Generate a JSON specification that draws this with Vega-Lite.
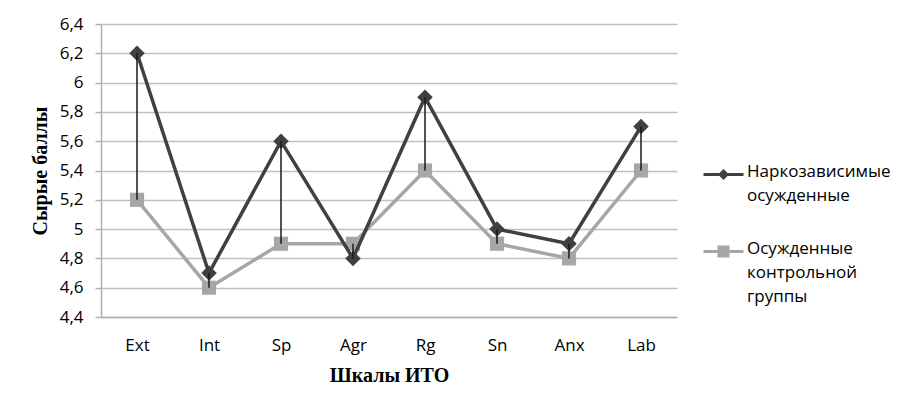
{
  "$schema": "https://vega.github.io/schema/vega-lite/v6.json",
  "width": 576,
  "height": 293,
  "autosize": {"type": "none"},
  "padding": {"left": 101, "top": 24, "right": 223, "bottom": 89},
  "background": "white",
  "config": {
    "view": {"stroke": null},
    "font": "Open Sans",
    "axis": {"labelFont": "Open Sans", "labelFontSize": 17, "labelColor": "#000000", "titleFont": "Liberation Serif", "titleFontWeight": "bold", "titleFontSize": 20, "titleColor": "#000000", "domainColor": "#b0b0b0", "domainWidth": 1.5, "tickColor": "#b0b0b0", "tickWidth": 1.5, "gridColor": "#c0c0c0", "gridWidth": 1.5}
  },
  "data": {
    "values": [
      {"cat": "Ext", "series": "Наркозависимые осужденные", "value": 6.2},
      {"cat": "Int", "series": "Наркозависимые осужденные", "value": 4.7},
      {"cat": "Sp", "series": "Наркозависимые осужденные", "value": 5.6},
      {"cat": "Agr", "series": "Наркозависимые осужденные", "value": 4.8},
      {"cat": "Rg", "series": "Наркозависимые осужденные", "value": 5.9},
      {"cat": "Sn", "series": "Наркозависимые осужденные", "value": 5.0},
      {"cat": "Anx", "series": "Наркозависимые осужденные", "value": 4.9},
      {"cat": "Lab", "series": "Наркозависимые осужденные", "value": 5.7},
      {"cat": "Ext", "series": "Осужденные контрольной группы", "value": 5.2},
      {"cat": "Int", "series": "Осужденные контрольной группы", "value": 4.6},
      {"cat": "Sp", "series": "Осужденные контрольной группы", "value": 4.9},
      {"cat": "Agr", "series": "Осужденные контрольной группы", "value": 4.9},
      {"cat": "Rg", "series": "Осужденные контрольной группы", "value": 5.4},
      {"cat": "Sn", "series": "Осужденные контрольной группы", "value": 4.9},
      {"cat": "Anx", "series": "Осужденные контрольной группы", "value": 4.8},
      {"cat": "Lab", "series": "Осужденные контрольной группы", "value": 5.4}
    ]
  },
  "encoding": {
    "x": {"field": "cat", "type": "nominal", "sort": ["Ext", "Int", "Sp", "Agr", "Rg", "Sn", "Anx", "Lab"], "scale": {"type": "point", "padding": 0.5}, "title": "Шкалы ИТО",
      "axis": {"labelAngle": 0, "ticks": false, "labelPadding": 20, "grid": false, "titlePadding": 12}},
    "y": {"field": "value", "type": "quantitative", "scale": {"domain": [4.4, 6.4], "nice": false, "zero": false}, "title": "Сырые баллы",
      "axis": {"values": [4.4, 4.6, 4.8, 5, 5.2, 5.4, 5.6, 5.8, 6, 6.2, 6.4], "labelOverlap": false, "labelExpr": "replace(format(datum.value, '.2~r'), '.', ',')", "tickSize": 6, "labelPadding": 12, "titleX": -61, "titleBaseline": "middle", "grid": true}}
  },
  "layer": [
    {
      "transform": [{"filter": "datum.series === 'Осужденные контрольной группы'"}],
      "mark": {"type": "line", "strokeWidth": 3.5},
      "encoding": {
        "color": {"field": "series", "type": "nominal", "scale": {"domain": ["Наркозависимые осужденные", "Осужденные контрольной группы"], "range": ["#404040", "#a6a6a6"]},
          "legend": {"title": null, "orient": "none", "legendX": 611, "legendY": 139, "padding": 0, "symbolSize": 400, "labelOffset": 12, "labelFont": "Open Sans", "labelFontSize": 17, "labelColor": "#000000", "labelBaseline": "top", "labelLimit": 300, "rowPadding": 35,
            "labelExpr": "datum.label === 'Наркозависимые осужденные' ? ['Наркозависимые', 'осужденные'] : ['Осужденные', 'контрольной', 'группы']",
            "encode": {
              "symbols": {"update": {"fill": {"scale": "color", "field": "value"}, "stroke": {"scale": "color", "field": "value"}, "strokeWidth": {"value": 3}, "opacity": {"value": 1}, "size": {"value": 400},
                "shape": {"signal": "datum.value === 'Наркозависимые осужденные' ? 'M-2,0H2M0,-0.35L0.35,0L0,0.35L-0.35,0Z' : 'M-2,0H2M-0.45,-0.45H0.45V0.45H-0.45Z'"}}},
              "labels": {"update": {"dy": {"value": -11}, "lineHeight": {"value": 24}}}
            }}}
      }
    },
    {
      "transform": [{"filter": "datum.series === 'Осужденные контрольной группы'"}],
      "mark": {"type": "point", "shape": "square", "filled": true, "size": 200, "opacity": 1},
      "encoding": {
        "color": {"field": "series", "type": "nominal"}
      }
    },
    {
      "transform": [{"filter": "datum.series === 'Наркозависимые осужденные'"}],
      "mark": {"type": "line", "strokeWidth": 3.5},
      "encoding": {
        "color": {"field": "series", "type": "nominal"}
      }
    },
    {
      "transform": [{"filter": "datum.series === 'Наркозависимые осужденные'"}],
      "mark": {"type": "point", "shape": "diamond", "filled": true, "size": 240, "opacity": 1},
      "encoding": {
        "color": {"field": "series", "type": "nominal"}
      }
    },
    {
      "transform": [{"pivot": "series", "value": "value", "groupby": ["cat"]}],
      "mark": {"type": "rule", "color": "#1a1a1a", "strokeWidth": 1.5},
      "encoding": {
        "y": {"field": "Наркозависимые осужденные", "type": "quantitative"},
        "y2": {"field": "Осужденные контрольной группы"}
      }
    }
  ]
}
